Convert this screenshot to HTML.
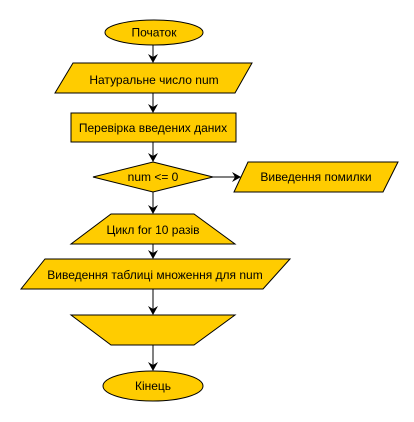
<!DOCTYPE html>
<html><head><meta charset="utf-8"><style>body{margin:0;background:#fff}</style></head><body>
<svg width="414" height="417" xmlns="http://www.w3.org/2000/svg" font-family="Liberation Sans, sans-serif" font-size="12">
<defs><marker id="a" markerWidth="10" markerHeight="10" refX="8" refY="5" orient="auto" markerUnits="userSpaceOnUse"><path d="M0,0 L9,5 L0,10 L3,5 Z" fill="#000"/></marker></defs>
<g stroke="#000" stroke-width="1" fill="#ffcc00">
<ellipse cx="154" cy="32.5" rx="49" ry="12.5"/>
<polygon points="73,63 252,63 235,93 55,93"/>
<rect x="71" y="113" width="165" height="29"/>
<polygon points="153,162 213,177 153,192 93,177"/>
<polygon points="248,162 398,162 383,192 234,192"/>
<polygon points="111,214 194,214 235,244 71,244"/>
<polygon points="45,259 290,259 263,289 21,289"/>
<polygon points="71,315 235,315 194,345 111,345"/>
<ellipse cx="153" cy="386" rx="50" ry="15"/>
</g>
<g stroke="#000" fill="none" marker-end="url(#a)">
<line x1="153" y1="45" x2="153" y2="62"/>
<line x1="153" y1="93" x2="153" y2="112"/>
<line x1="153" y1="142" x2="153" y2="161"/>
<line x1="213" y1="177" x2="240" y2="177"/>
<line x1="153" y1="192" x2="153" y2="213"/>
<line x1="153" y1="244" x2="153" y2="258"/>
<line x1="153" y1="289" x2="153" y2="314"/>
<line x1="153" y1="345" x2="153" y2="370"/>
</g>
<g text-anchor="middle" fill="#000">
<text x="154" y="36.5">Початок</text>
<text x="154" y="84">Натуральне число num</text>
<text x="153" y="132">Перевірка введених даних</text>
<text x="153" y="181">num &lt;= 0</text>
<text x="316" y="181">Виведення помилки</text>
<text x="153" y="234">Цикл for 10 разів</text>
<text x="155" y="279">Виведення таблиці множення для num</text>
<text x="153" y="390">Кінець</text>
</g>
</svg>
</body></html>
